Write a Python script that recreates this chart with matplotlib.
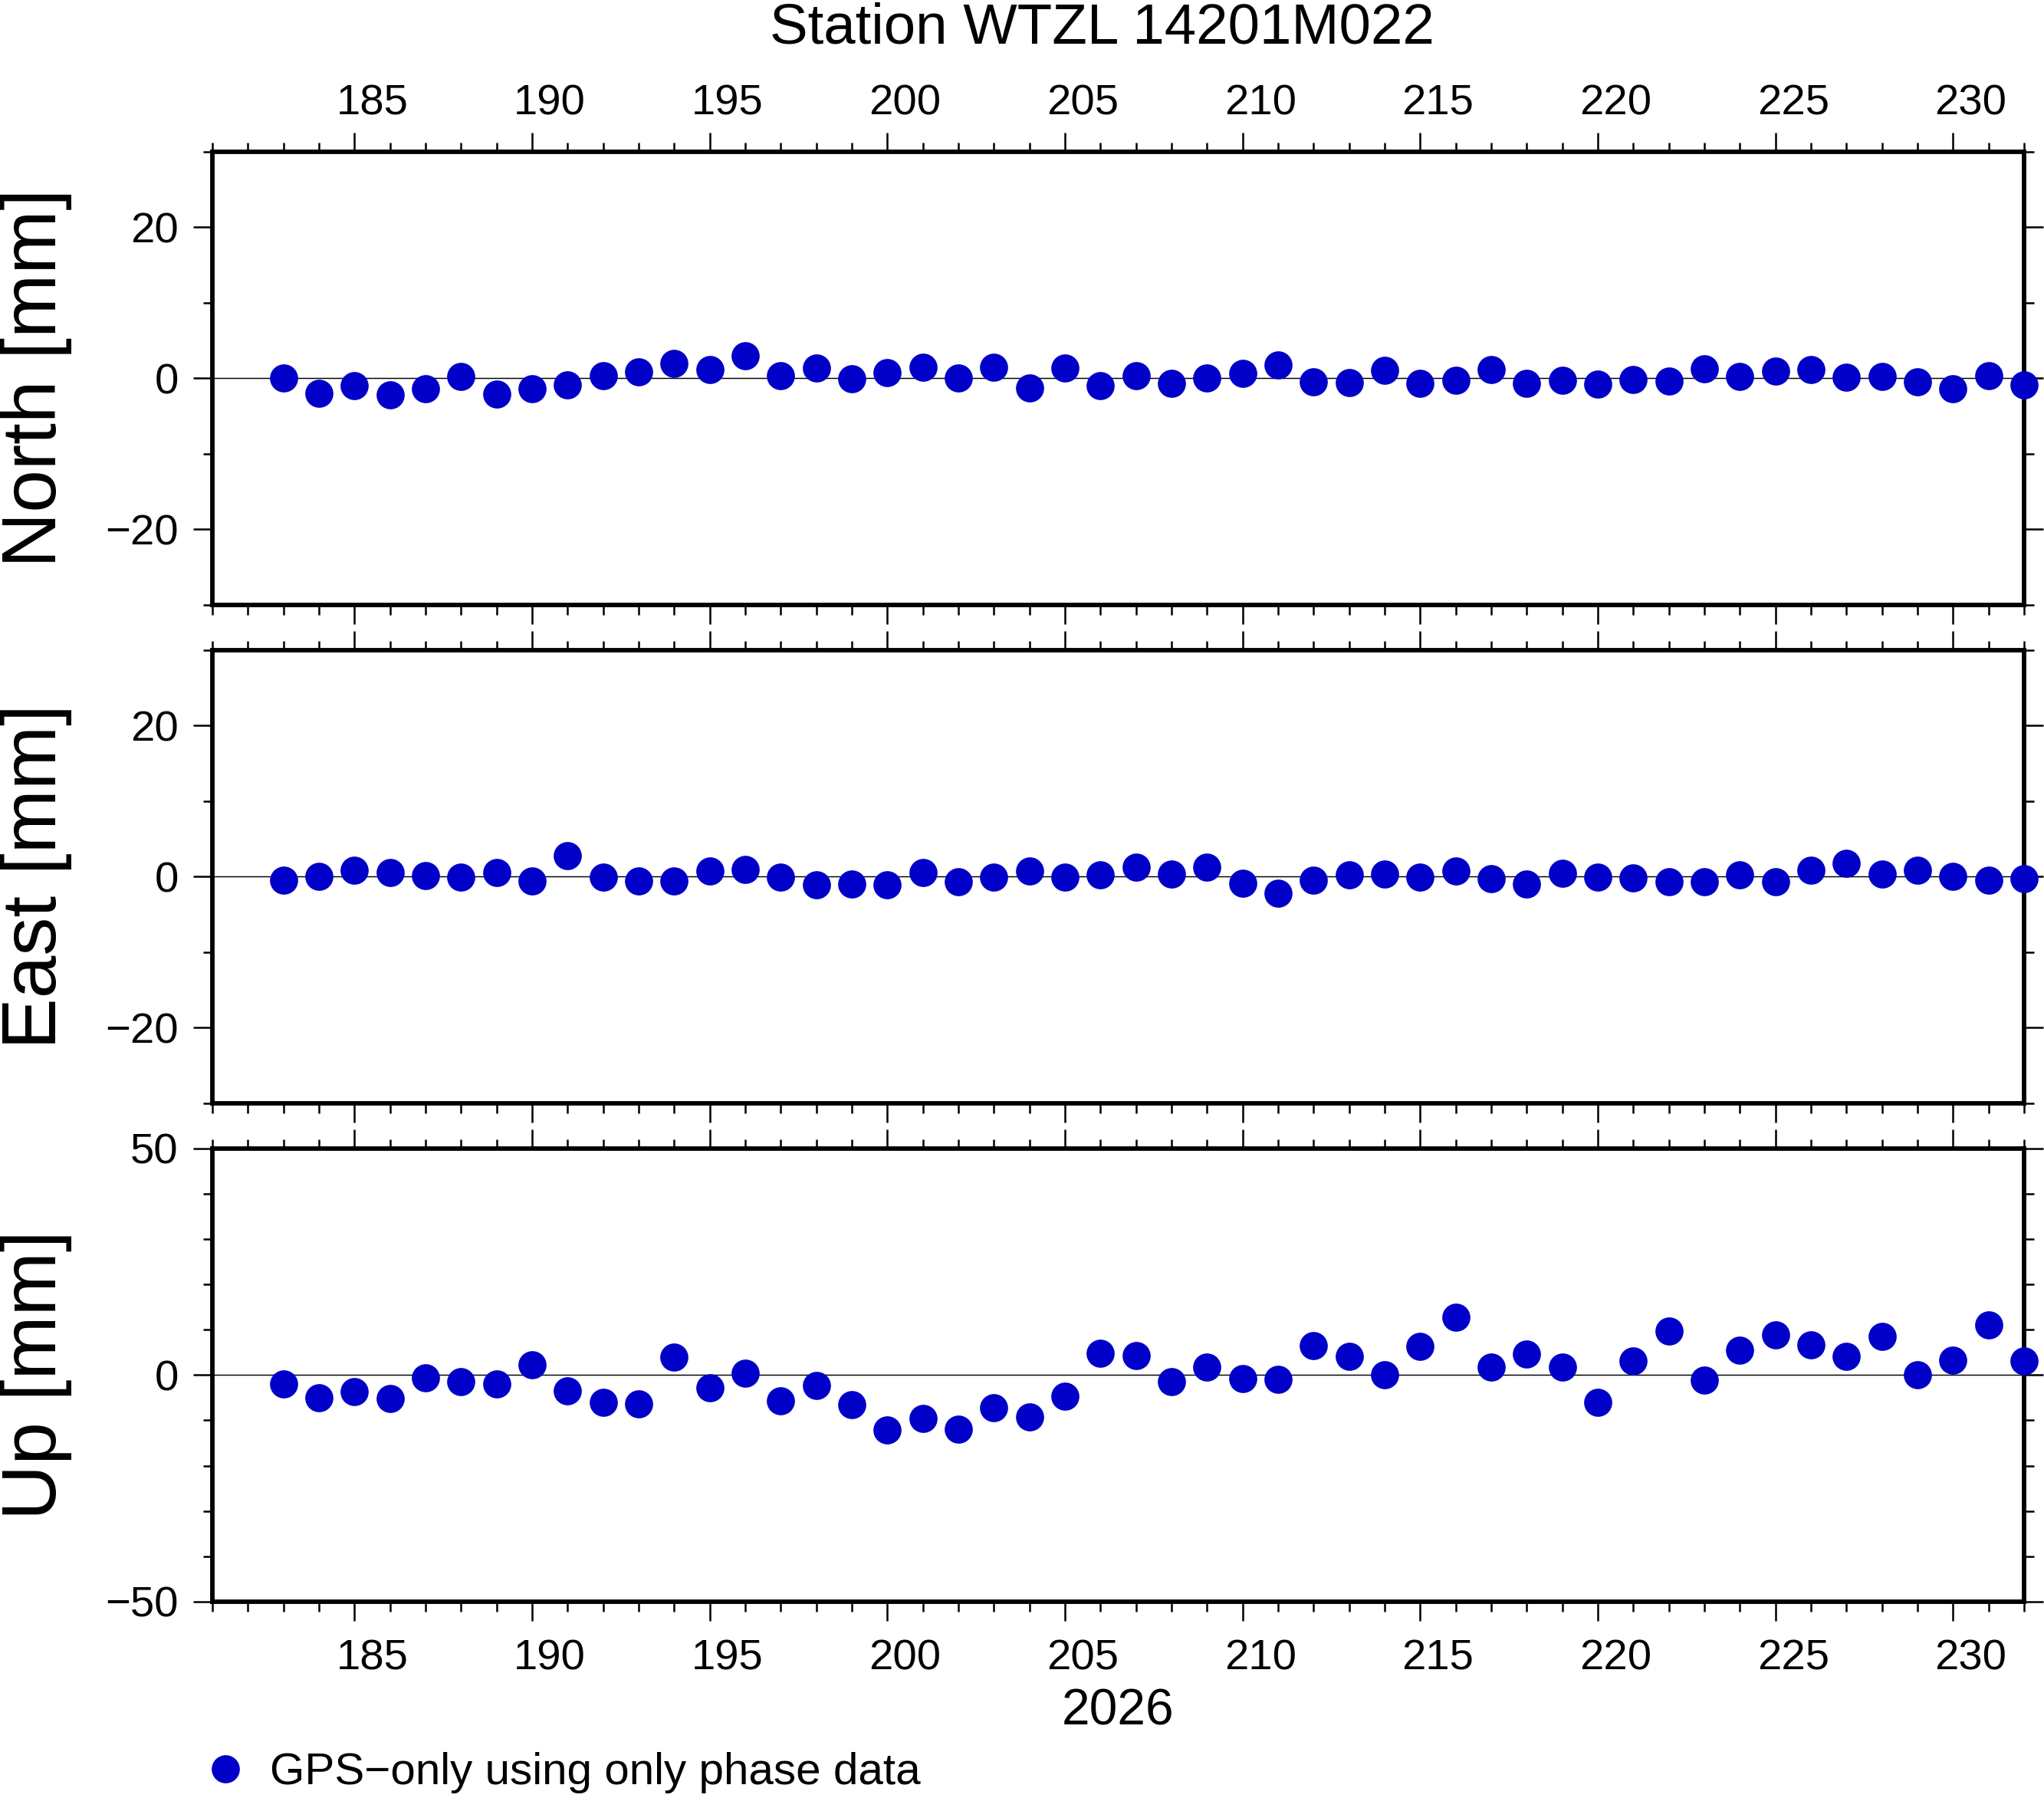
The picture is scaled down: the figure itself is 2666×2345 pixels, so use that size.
import matplotlib
matplotlib.use('Agg')
import matplotlib.pyplot as plt
from matplotlib.ticker import MultipleLocator
from matplotlib.transforms import ScaledTranslation
from matplotlib.lines import Line2D

# ---- data ----
days = list(range(183, 233))
north = [0.0, -2.0, -1.0, -2.2, -1.35, 0.2, -2.1, -1.4, -0.9, 0.3,
         0.8, 2.0, 1.1, 3.0, 0.3, 1.3, -0.1, 0.7, 1.5, 0.0,
         1.45, -1.3, 1.3, -1.0, 0.3, -0.7, 0.0, 0.6, 1.8, -0.5,
         -0.6, 1.0, -0.7, -0.3, 1.1, -0.7, -0.3, -0.8, -0.2, -0.4,
         1.2, 0.2, 0.9, 1.1, 0.1, 0.2, -0.5, -1.4, 0.3, -0.9]
east = [-0.5, 0.0, 0.8, 0.5, 0.1, -0.1, 0.5, -0.6, 2.8, -0.1,
        -0.6, -0.6, 0.7, 0.9, -0.1, -1.1, -1.0, -1.1, 0.5, -0.7,
        -0.1, 0.7, -0.1, 0.2, 1.2, 0.3, 1.2, -0.9, -2.2, -0.5,
        0.2, 0.3, -0.1, 0.7, -0.3, -1.0, 0.4, -0.1, -0.2, -0.7,
        -0.7, 0.2, -0.7, 0.8, 1.8, 0.3, 0.8, 0.0, -0.5, -0.3]
up = [-1.9, -5.1, -3.7, -5.2, -0.6, -1.5, -1.9, 2.3, -3.5, -6.0,
      -6.4, 3.9, -2.8, 0.4, -5.7, -2.3, -6.5, -12.1, -9.6, -11.9,
      -7.2, -9.2, -4.7, 4.8, 4.3, -1.5, 1.7, -0.8, -1.0, 6.5,
      4.1, 0.1, 6.3, 12.7, 1.7, 4.6, 1.7, -6.0, 3.1, 9.7,
      -1.1, 5.5, 8.8, 6.6, 4.1, 8.5, 0.1, 3.3, 11.0, 3.1]

panel_labels = ['North [mm]', 'East [mm]', 'Up [mm]']
panel_limits = [(-30, 30), (-30, 30), (-50, 50)]
panel_major = [20, 20, 50]
panel_minor = [10, 10, 10]
title = 'Station WTZL 14201M022'
year_label = '2026'
legend_label = 'GPS\u2212only using only phase data'
xlim = (181, 232)

# ---- style ----
plt.rcParams['font.family'] = ['Liberation Sans', 'DejaVu Sans']
plt.rcParams['axes.unicode_minus'] = True

W, H, DPI = 2666, 2345, 300
fig = plt.figure(figsize=(W / DPI, H / DPI), dpi=DPI)

blue = '#0000c8'
x0_px, x1_px = 277, 2640
ph_px = 591
bottoms_px = [788.8, 1438.8, 2088.8]

axes = []
for i in range(3):
    ax = fig.add_axes([x0_px / W, 1 - bottoms_px[i] / H, (x1_px - x0_px) / W, ph_px / H])
    axes.append(ax)

values = [north, east, up]
for i, ax in enumerate(axes):
    ax.axhline(0, color='black', lw=0.35, zorder=1)
    ax.plot(days, values[i], linestyle='none', marker='o', ms=8.8, mew=0,
            color=blue, clip_on=False, zorder=3)
    ax.set_xlim(*xlim)
    ax.set_ylim(*panel_limits[i])
    ax.xaxis.set_major_locator(MultipleLocator(5))
    ax.xaxis.set_minor_locator(MultipleLocator(1))
    ax.yaxis.set_major_locator(MultipleLocator(panel_major[i]))
    ax.yaxis.set_minor_locator(MultipleLocator(panel_minor[i]))
    for sp in ax.spines.values():
        sp.set_linewidth(1.4)
    ax.tick_params(axis='both', which='both', direction='out', top=True, right=True,
                   width=0.6, color='black', labelsize=13.5)
    ax.tick_params(axis='both', which='major', length=6.0)
    ax.tick_params(axis='both', which='minor', length=3.0)
    ax.tick_params(axis='x', which='major', pad=5.8)
    ax.tick_params(axis='y', which='major', pad=4.6)
    ax.tick_params(axis='x', labelbottom=(i == 2), labeltop=(i == 0))
    ax.set_ylabel(panel_labels[i], fontsize=24)
    ax.yaxis.set_label_coords(-0.0774, 0.5)

fig.canvas.draw()
# GMT-style interval annotation: labels centred on day interval (shift by half a day)
dx_in = 0.5 * (x1_px - x0_px) / (xlim[1] - xlim[0]) / DPI
dy_in = 13 / DPI
for i, ax in enumerate(axes):
    for tick in ax.xaxis.get_major_ticks():
        tick.label1.set_transform(tick.label1.get_transform() +
                                  ScaledTranslation(dx_in, 0, fig.dpi_scale_trans))
        tick.label2.set_transform(tick.label2.get_transform() +
                                  ScaledTranslation(dx_in, -dy_in, fig.dpi_scale_trans))

axes[2].set_xlabel(year_label, fontsize=15.8, va='baseline')
axes[2].xaxis.set_label_coords(0.5, (bottoms_px[2] - 2250) / ph_px)

fig.text(1437 / W, 1 - 56.7 / H, title, fontsize=17.9, ha='center', va='baseline')

handle = Line2D([], [], linestyle='none', marker='o', ms=8.8, mew=0, color=blue)
fig.legend([handle], [legend_label], loc='center left',
           bbox_to_anchor=(265 / W, 1 - 2312 / H), frameon=False, borderpad=0,
           borderaxespad=0, handlelength=1.0, handletextpad=0.5, fontsize=14,
           numpoints=1)

fig.savefig('out.png', dpi=DPI)
